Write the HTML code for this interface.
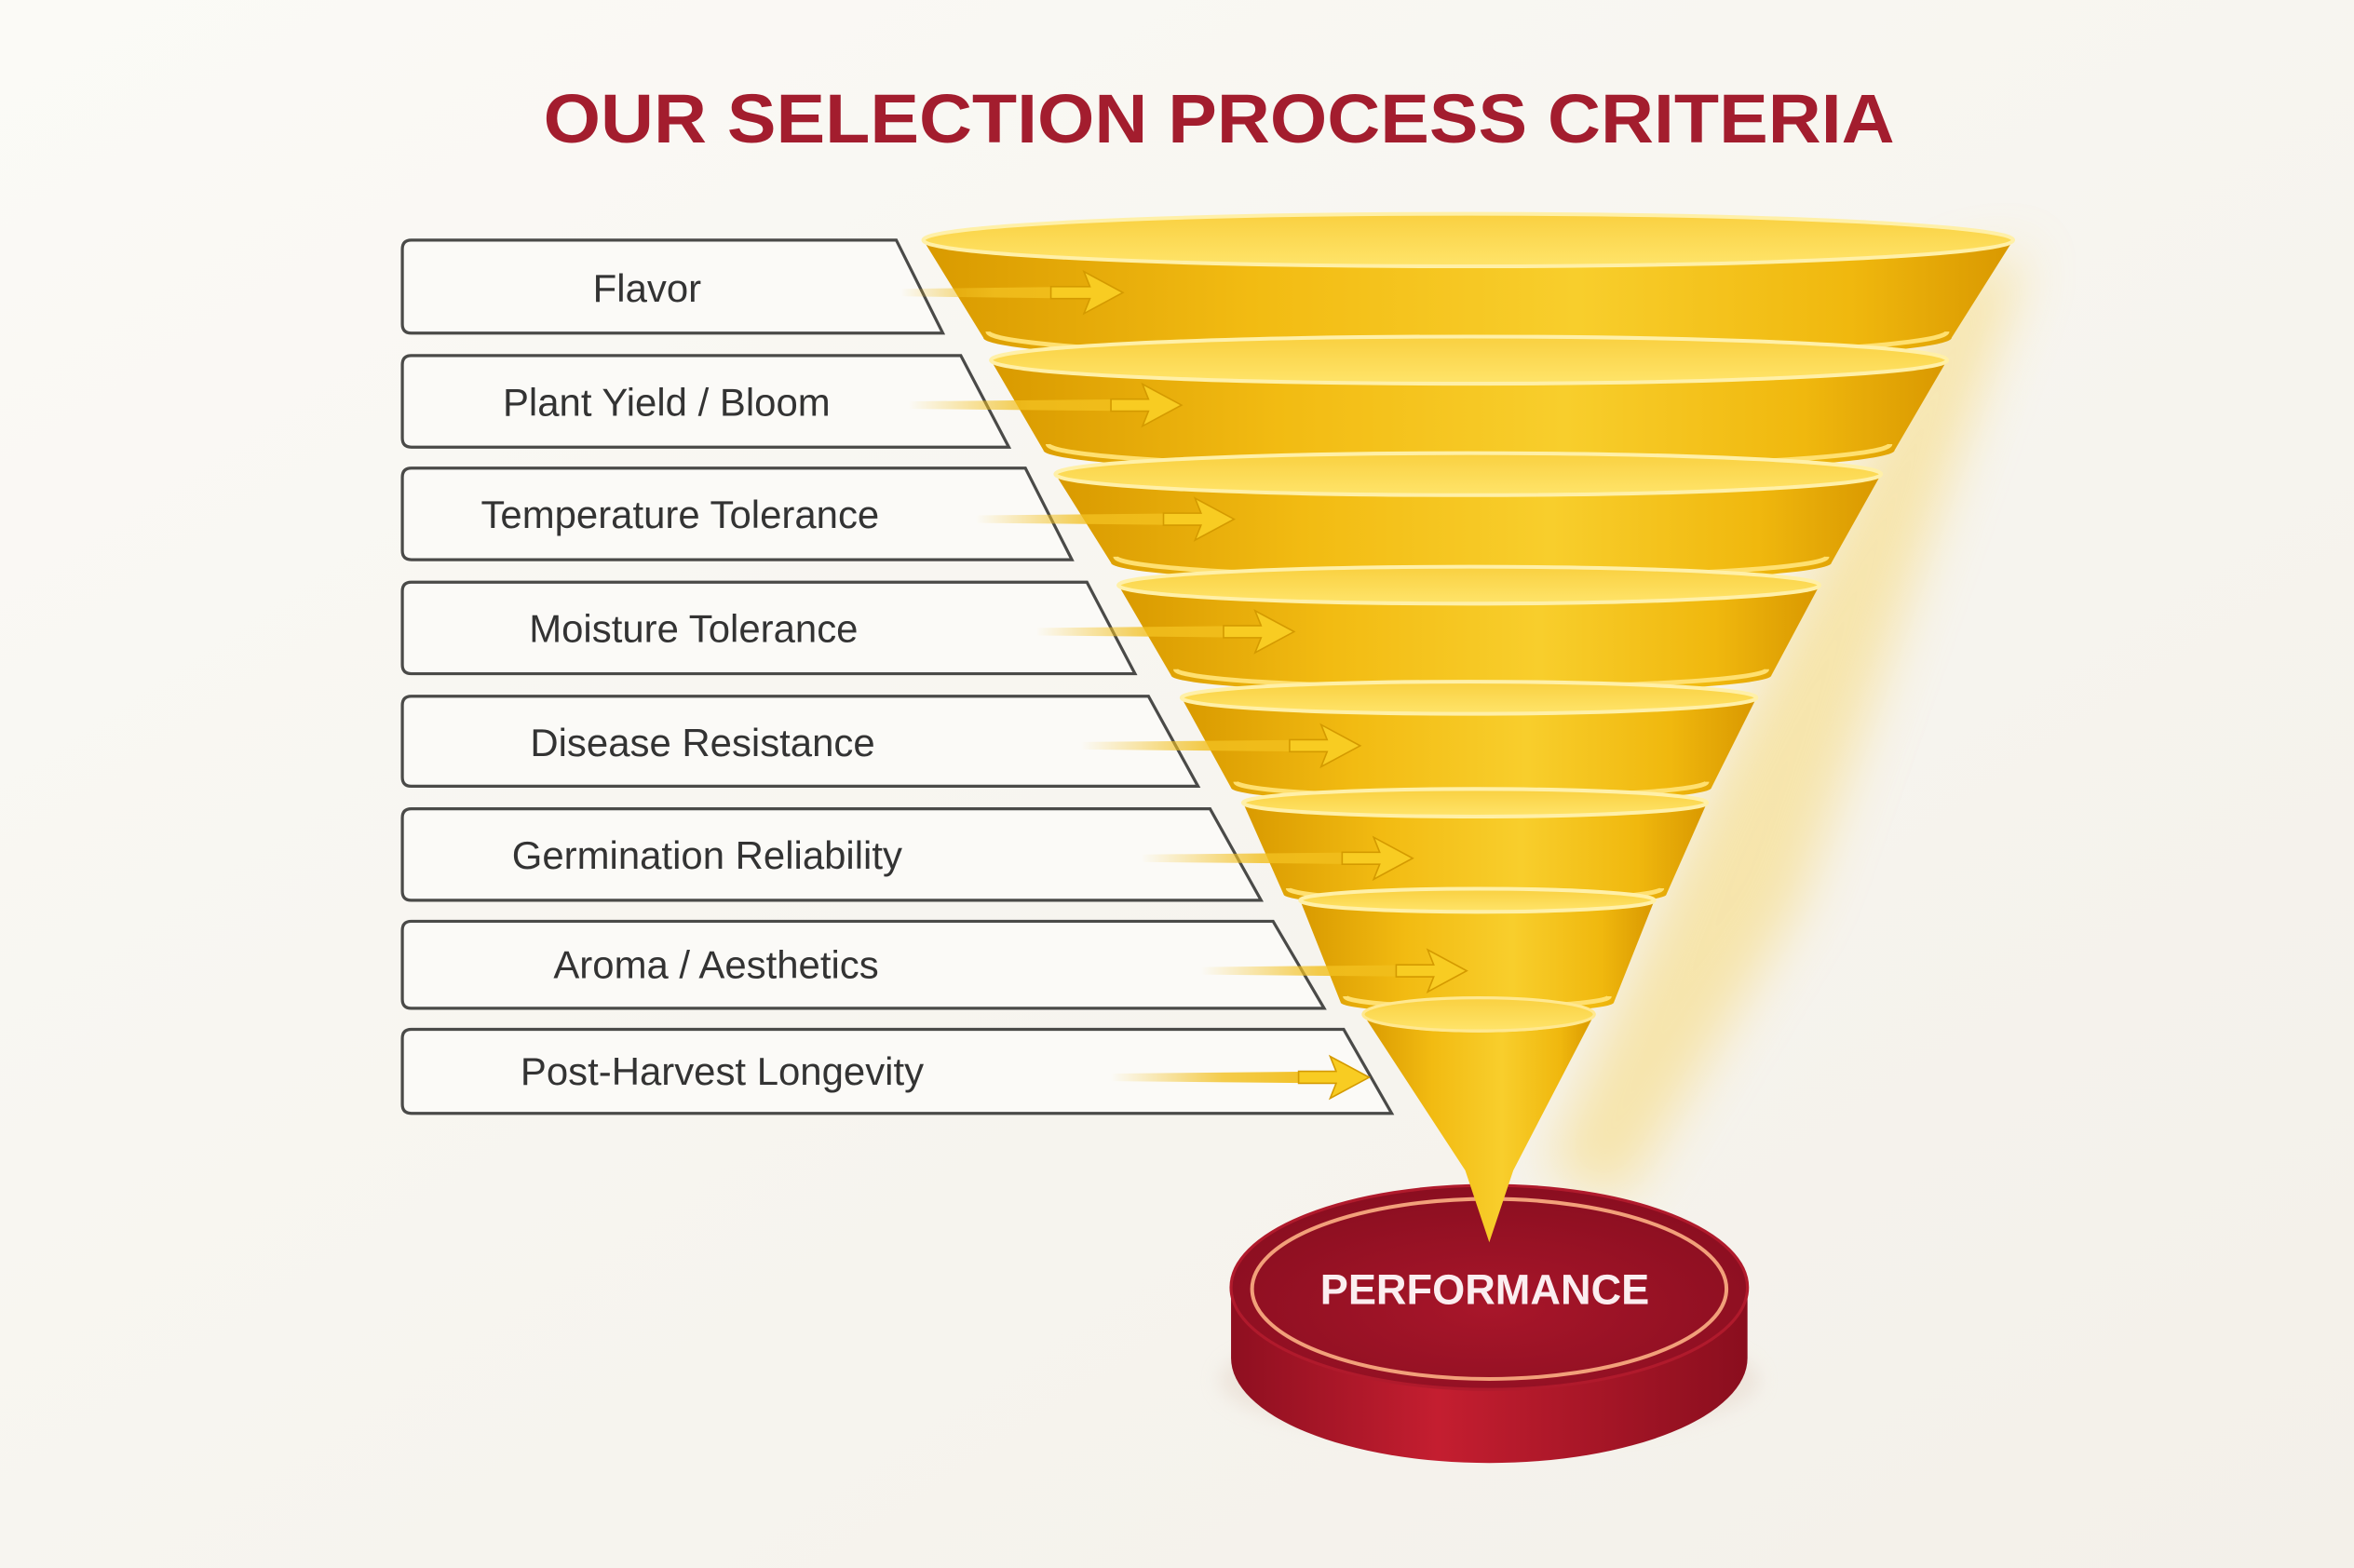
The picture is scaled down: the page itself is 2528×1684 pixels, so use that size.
<!DOCTYPE html>
<html><head><meta charset="utf-8"><style>
html,body{margin:0;padding:0;background:#f8f6f1;}
svg{display:block}
</style></head><body>
<svg width="2528" height="1684" viewBox="0 0 1568 1045" preserveAspectRatio="none" xmlns="http://www.w3.org/2000/svg">
<defs>
<linearGradient id="bg" x1="0" y1="0" x2="1" y2="1"><stop offset="0" stop-color="#fbfaf6"/><stop offset="1" stop-color="#f3f0e9"/></linearGradient>
<linearGradient id="gold" x1="0" y1="0" x2="1" y2="0"><stop offset="0" stop-color="#d99a00"/><stop offset="0.3" stop-color="#f2bb12"/><stop offset="0.6" stop-color="#f8ce2c"/><stop offset="0.85" stop-color="#f0b80e"/><stop offset="1" stop-color="#d99800"/></linearGradient>
<linearGradient id="goldTop" x1="0" y1="0" x2="0" y2="1"><stop offset="0" stop-color="#f9d040"/><stop offset="1" stop-color="#ffe46a"/></linearGradient>
<linearGradient id="arrow" x1="0" y1="0" x2="1" y2="0"><stop offset="0" stop-color="#f2c020" stop-opacity="0"/><stop offset="0.5" stop-color="#f2c020" stop-opacity="0.8"/><stop offset="1" stop-color="#f0bc18"/></linearGradient>
<linearGradient id="red" x1="0" y1="0" x2="1" y2="0"><stop offset="0" stop-color="#8e0f20"/><stop offset="0.4" stop-color="#c41e30"/><stop offset="1" stop-color="#8a0e1e"/></linearGradient>
<radialGradient id="redTop" cx="0.5" cy="0.6" r="0.6"><stop offset="0" stop-color="#a8162a"/><stop offset="1" stop-color="#8a0e20"/></radialGradient>
<filter id="blur"><feGaussianBlur stdDeviation="18"/></filter>
<filter id="sblur"><feGaussianBlur stdDeviation="6"/></filter>
</defs>
<rect width="1568" height="1045" fill="url(#bg)"/>
<text x="812" y="95" text-anchor="middle" font-family="Liberation Sans, sans-serif" font-weight="bold" font-size="46" fill="#a31d2e" textLength="900" lengthAdjust="spacingAndGlyphs">OUR SELECTION PROCESS CRITERIA</text>

<polygon points="1300,180 1350,170 1200,600 1080,800 1030,780 1150,500" fill="#f7d66a" opacity="0.5" filter="url(#blur)"/>

<g fill="#fbfaf7" stroke="#4a4a48" stroke-width="2">
<path d="M274,160 L597,160 L628,222 L274,222 Q268,222 268,216 L268,166 Q268,160 274,160Z"/>
<path d="M274,237 L640,237 L672,298 L274,298 Q268,298 268,292 L268,243 Q268,237 274,237Z"/>
<path d="M274,312 L683,312 L714,373 L274,373 Q268,373 268,367 L268,318 Q268,312 274,312Z"/>
<path d="M274,388 L724,388 L756,449 L274,449 Q268,449 268,443 L268,394 Q268,388 274,388Z"/>
<path d="M274,464 L765,464 L798,524 L274,524 Q268,524 268,518 L268,470 Q268,464 274,464Z"/>
<path d="M274,539 L806,539 L840,600 L274,600 Q268,600 268,594 L268,545 Q268,539 274,539Z"/>
<path d="M274,614 L848,614 L882,672 L274,672 Q268,672 268,666 L268,620 Q268,614 274,614Z"/>
<path d="M274,686 L895,686 L927,742 L274,742 Q268,742 268,736 L268,692 Q268,686 274,686Z"/>
</g>
<g font-family="Liberation Sans, sans-serif" font-size="26" fill="#333" text-anchor="middle">
<text x="431" y="201">Flavor</text>
<text x="444" y="277">Plant Yield / Bloom</text>
<text x="453" y="352">Temperature Tolerance</text>
<text x="462" y="428">Moisture Tolerance</text>
<text x="468" y="504">Disease Resistance</text>
<text x="471" y="579">Germination Reliability</text>
<text x="477" y="652">Aroma / Aesthetics</text>
<text x="481" y="723">Post-Harvest Longevity</text>
</g>

<g stroke-linejoin="round">
<path d="M615,160 L655,225 A322.5,17.5 0 0 0 1300,225 L1341,160 A363,17.5 0 0 0 615,160 Z" fill="url(#gold)"/>
<path d="M658,221 A319.5,17.5 0 0 0 1297,221" fill="none" stroke="#ffe070" stroke-width="3"/>
<ellipse cx="978" cy="160" rx="363" ry="17.5" fill="url(#goldTop)" stroke="#fff0a8" stroke-width="2.5"/>

<path d="M660,240 L695,300 A283.5,15.8 0 0 0 1262,300 L1297,240 A318.5,15.7 0 0 0 660,240 Z" fill="url(#gold)"/>
<path d="M698,296 A280.5,15.8 0 0 0 1259,296" fill="none" stroke="#ffe070" stroke-width="3"/>
<ellipse cx="978.5" cy="240" rx="318.5" ry="15.7" fill="url(#goldTop)" stroke="#fff0a8" stroke-width="2.5"/>

<path d="M703,316 L740,375 A240,13.8 0 0 0 1220,375 L1253,316 A275,14 0 0 0 703,316 Z" fill="url(#gold)"/>
<path d="M743,371 A237,13.8 0 0 0 1217,371" fill="none" stroke="#ffe070" stroke-width="3"/>
<ellipse cx="978" cy="316" rx="275" ry="14" fill="url(#goldTop)" stroke="#fff0a8" stroke-width="2.5"/>

<path d="M745,390 L780,450 A200,12 0 0 0 1180,450 L1212,390 A233.5,12.3 0 0 0 745,390 Z" fill="url(#gold)"/>
<path d="M783,446 A197,12 0 0 0 1177,446" fill="none" stroke="#ffe070" stroke-width="3"/>
<ellipse cx="978.5" cy="390" rx="233.5" ry="12.3" fill="url(#goldTop)" stroke="#fff0a8" stroke-width="2.5"/>

<path d="M787,465 L820,525 A160,10.2 0 0 0 1140,525 L1170,465 A191.5,10.7 0 0 0 787,465 Z" fill="url(#gold)"/>
<path d="M823,521 A157,10.2 0 0 0 1137,521" fill="none" stroke="#ffe070" stroke-width="3"/>
<ellipse cx="978.5" cy="465" rx="191.5" ry="10.7" fill="url(#goldTop)" stroke="#fff0a8" stroke-width="2.5"/>

<path d="M828,535 L855,596 A127.5,8.7 0 0 0 1110,596 L1137,535 A154.5,9.2 0 0 0 828,535 Z" fill="url(#gold)"/>
<path d="M858,592 A124.5,8.7 0 0 0 1107,592" fill="none" stroke="#ffe070" stroke-width="3"/>
<ellipse cx="982.5" cy="535" rx="154.5" ry="9.2" fill="url(#goldTop)" stroke="#fff0a8" stroke-width="2.5"/>

<path d="M866,600 L893,668 A91,7.1 0 0 0 1075,668 L1102,600 A118,7.7 0 0 0 866,600 Z" fill="url(#gold)"/>
<path d="M896,664 A88,7.1 0 0 0 1072,664" fill="none" stroke="#ffe070" stroke-width="3"/>
<ellipse cx="984" cy="600" rx="118" ry="7.7" fill="url(#goldTop)" stroke="#fff0a8" stroke-width="2.5"/>
</g>

<g>
<ellipse cx="992" cy="920" rx="180" ry="40" fill="#e8dcd0" opacity="0.6" filter="url(#sblur)"/>
<path d="M820,858 L820,905 A172,70 0 0 0 1164,905 L1164,858 Z" fill="url(#red)"/>
<ellipse cx="992" cy="858" rx="172" ry="68" fill="url(#redTop)" stroke="#b01a2c" stroke-width="2"/>
<ellipse cx="992" cy="859" rx="158" ry="60" fill="none" stroke="#f2a07a" stroke-width="2.5"/>
<text x="989" y="869" text-anchor="middle" font-family="Liberation Sans, sans-serif" font-weight="bold" font-size="28" fill="#fbeef0">PERFORMANCE</text>
</g>
<path d="M908,676 A77,12 0 0 0 1062,676 L1008,780 L992,828 L976,780 Z" fill="url(#gold)"/>
<ellipse cx="985" cy="676" rx="77" ry="11" fill="url(#goldTop)" stroke="#ffe890" stroke-width="2"/>

<g fill="url(#arrow)">
<polygon points="600,192.5 726,191 726,199 600,197.5"/>
<polygon points="605,267.5 765,266 765,274 605,272.5"/>
<polygon points="650,343.5 800,342 800,350 650,348.5"/>
<polygon points="690,418.5 840,417 840,425 690,423.5"/>
<polygon points="720,494.5 884,493 884,501 720,499.5"/>
<polygon points="760,569.5 919,568 919,576 760,574.5"/>
<polygon points="800,644.5 955,643 955,651 800,649.5"/>
<polygon points="740,715.5 890,714 890,722 740,720.5"/>
</g>
<g fill="#f8cc22" stroke="#d49a00" stroke-width="1">
<polygon points="700,191 726,191 722,181 748,195 722,209 726,199 700,199"/>
<polygon points="740,266 765,266 761,256 787,270 761,284 765,274 740,274"/>
<polygon points="775,342 800,342 796,332 822,346 796,360 800,350 775,350"/>
<polygon points="815,417 840,417 836,407 862,421 836,435 840,425 815,425"/>
<polygon points="859,493 884,493 880,483 906,497 880,511 884,501 859,501"/>
<polygon points="894,568 919,568 915,558 941,572 915,586 919,576 894,576"/>
<polygon points="930,643 955,643 951,633 977,647 951,661 955,651 930,651"/>
<polygon points="865,714 890,714 886,704 912,718 886,732 890,722 865,722"/>
</g>
</svg>
</body></html>
